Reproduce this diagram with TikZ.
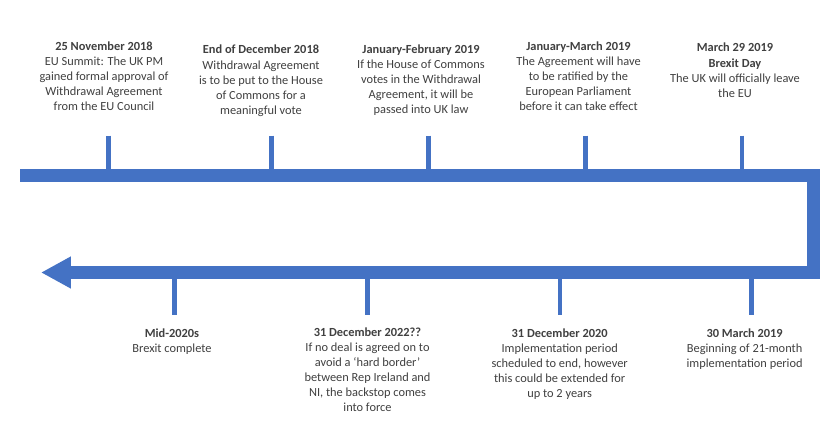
\documentclass[tikz,border=0pt]{standalone}
\usepackage{fontspec}
\setmainfont{Carlito}
\usepackage{tikz}
\usetikzlibrary{arrows.meta}
\definecolor{tlblue}{HTML}{4472C4}
\definecolor{tltext}{HTML}{404040}

\begin{document}
\begin{tikzpicture}[
  x=0.025cm, y=-0.025cm,
  font=\fontsize{8.8}{10.7}\selectfont,
  lbl/.style={align=center, inner sep=0pt, anchor=north, text=tltext},
  bar/.style={draw=tlblue, line width=8.9pt, line join=miter, -{Triangle[length=21.3pt, width=21.3pt]}},
  tick/.style={draw=tlblue, line width=3.2pt}
]
\fill[white] (0,0) rectangle (840,428);
\useasboundingbox (0,0) rectangle (840,428);

% events above the line
\node[lbl] (nov18) at (104,41.5) {\textbf{25 November 2018}\\EU Summit: The UK PM\\gained formal approval of\\Withdrawal Agreement\\from the EU Council};
\node[lbl] (dec18) at (261,45) {\textbf{End of December 2018}\\Withdrawal Agreement\\is to be put to the House\\of Commons for a\\meaningful vote};
\node[lbl] (janfeb19) at (421,44.5) {\textbf{January-February 2019}\\If the House of Commons\\votes in the Withdrawal\\Agreement, it will be\\passed into UK law};
\node[lbl] (janmar19) at (578.5,41.5) {\textbf{January-March 2019}\\The Agreement will have\\to be ratified by the\\European Parliament\\before it can take effect};
\node[lbl] (mar29) at (735,43) {\textbf{March 29 2019}\\\textbf{Brexit Day}\\The UK will officially leave\\the EU};

% events below the line
\node[lbl] (mid20s) at (172,328.8) {\textbf{Mid-2020s}\\Brexit complete};
\node[lbl] (dec22) at (367.5,327.2) {\textbf{31 December 2022??}\\If no deal is agreed on to\\avoid a ‘hard border’\\between Rep Ireland and\\NI, the backstop comes\\into force};
\node[lbl] (dec20) at (559.7,328.8) {\textbf{31 December 2020}\\Implementation period\\scheduled to end, however\\this could be extended for\\up to 2 years};
\node[lbl] (mar30) at (744.6,328.5) {\textbf{30 March 2019}\\Beginning of 21-month\\implementation period};

% ticks
\draw[tick] (108.3,135.5) -- (108.3,175.5);
\draw[tick] (271.7,135.5) -- (271.7,175.5);
\draw[tick] (428.5,135.5) -- (428.5,175.5);
\draw[tick] (585.5,135.5) -- (585.5,175.5);
\draw[tick] (742,135.5) -- (742,175.5);
\draw[tick] (174.5,272.5) -- (174.5,315);
\draw[tick] (367.4,272.5) -- (367.4,315);
\draw[tick] (560,272.5) -- (560,315);
\draw[tick] (751.5,272.5) -- (751.5,315);

% timeline
\coordinate (tlstart) at (20,175.5);
\coordinate (tlturn1) at (813.5,175.5);
\coordinate (tlturn2) at (813.5,272.5);
\coordinate (tlend) at (41,272.5);
\draw[bar] (tlstart) -- (tlturn1) -- (tlturn2) -- (tlend);

\end{tikzpicture}
\end{document}
